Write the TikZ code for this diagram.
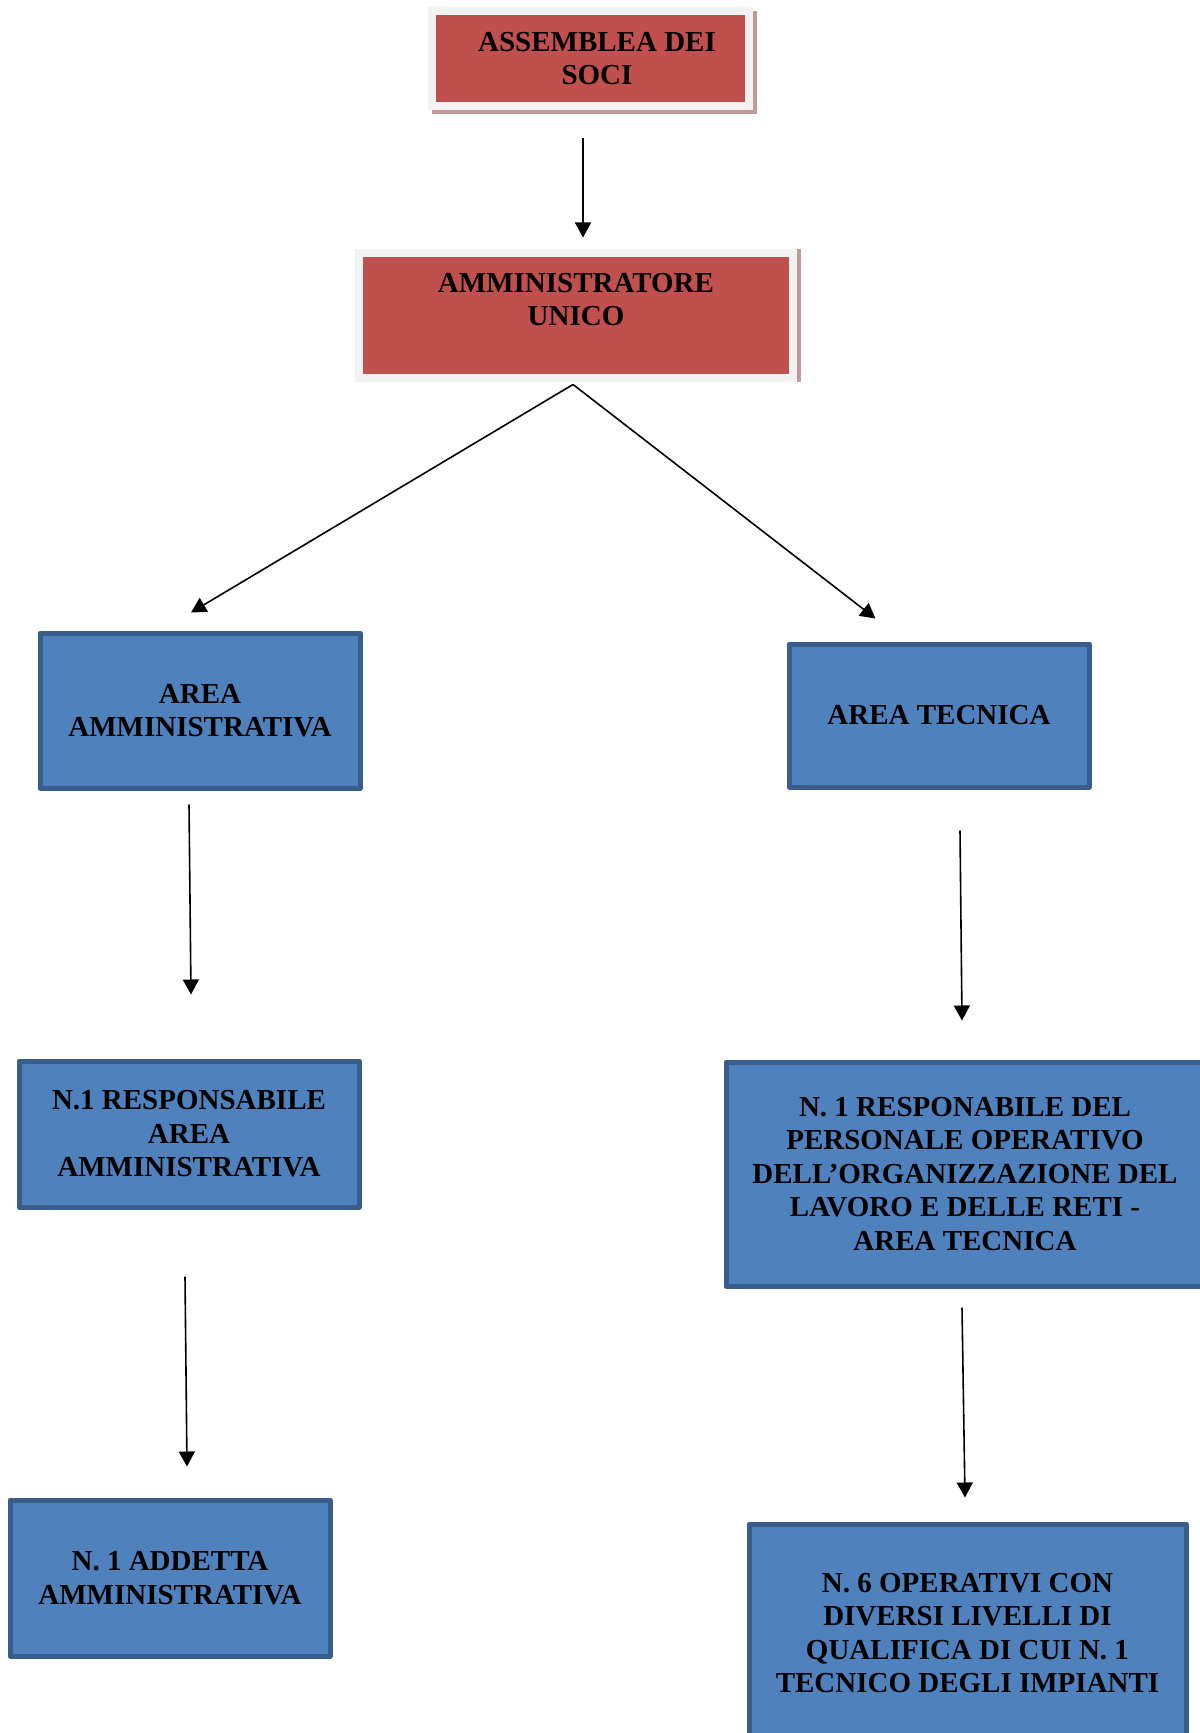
\documentclass[tikz,border=0pt]{standalone}
\usepackage{fontspec}
\setmainfont{Liberation Serif}
\usetikzlibrary{arrows.meta}

\definecolor{boxred}{HTML}{C0504D}
\definecolor{framegray}{HTML}{F2F2F2}
\definecolor{shadowred}{HTML}{C09A9A}
\definecolor{boxblue}{HTML}{4F81BD}
\definecolor{lineblue}{HTML}{385D8A}

\begin{document}
\begin{tikzpicture}[x=0.5pt,y=-0.5pt,
    font=\fontsize{14.5pt}{16.75pt}\selectfont\bfseries,
    redbox/.style={rectangle, fill=boxred, draw=framegray, line width=4pt, align=center},
    bluebox/.style={rectangle, fill=boxblue, draw=lineblue, line width=2.5pt, line join=round, align=center},
    arr/.style={-{Triangle[length=7.5pt,width=8pt]}, line width=0.8pt}]
    \useasboundingbox (0,0) rectangle (1199,1733);

    % top level
    \node (assemblea) [redbox, minimum width=158.5pt, minimum height=47.5pt,
        preaction={draw=shadowred, line width=4pt, transform canvas={xshift=2pt,yshift=-2pt}},
        label={[align=center, xshift=3.5pt]center:ASSEMBLEA DEI\\SOCI}]
        at (590,58.5) {};
    \node (amministratore) [redbox, minimum width=217pt, minimum height=62pt,
        preaction={draw=shadowred, line width=4pt, transform canvas={xshift=2pt}},
        label={[align=center, yshift=8pt]center:AMMINISTRATORE\\UNICO}]
        at (576,315.5) {};

    % areas
    \node (areaamm) [bluebox, minimum width=160pt, minimum height=77.5pt] at (200,710.5) {AREA\\AMMINISTRATIVA};
    \node (areatec) [bluebox, minimum width=150pt, minimum height=71.5pt] at (939,715.5) {AREA TECNICA};

    % responsabili
    \node (respamm) [bluebox, minimum width=170pt, minimum height=73pt] at (189,1134) {N.1 RESPONSABILE\\AREA\\AMMINISTRATIVA};
    \node (resptec) [bluebox, minimum width=239pt, minimum height=112pt] at (965,1174)
        {N. 1 RESPONABILE DEL\\PERSONALE OPERATIVO\\DELL’ORGANIZZAZIONE DEL\\LAVORO E DELLE RETI -\\AREA TECNICA};

    % personale
    \node (addetta) [bluebox, minimum width=160pt, minimum height=78pt] at (170,1578) {N. 1 ADDETTA\\AMMINISTRATIVA};
    \node (operativi) [bluebox, minimum width=218.5pt, minimum height=109pt] at (967.5,1633)
        {N. 6 OPERATIVI CON\\DIVERSI LIVELLI DI\\QUALIFICA DI CUI N. 1\\TECNICO DEGLI IMPIANTI};

    \draw[arr] ([shift={(-7,28)}]assemblea.south) -- ([shift={(7,-12)}]amministratore.north);
    \draw[arr] ([shift={(-3,3)}]amministratore.south) -- ([shift={(-9,-18)}]areaamm.north);
    \draw[arr] ([shift={(-3,3)}]amministratore.south) -- ([shift={(89,-23)}]areatec.north west);
    \draw[arr] ([shift={(-11,14)}]areaamm.south) -- ([shift={(2,-64)}]respamm.north);
    \draw[arr] ([shift={(-4,67)}]respamm.south) -- ([shift={(17,-31)}]addetta.north);
    \draw[arr] ([shift={(21,41)}]areatec.south) -- ([shift={(-3,-39)}]resptec.north);
    \draw[arr] ([shift={(-3,19)}]resptec.south) -- ([shift={(-2.5,-24)}]operativi.north);
\end{tikzpicture}
\end{document}
